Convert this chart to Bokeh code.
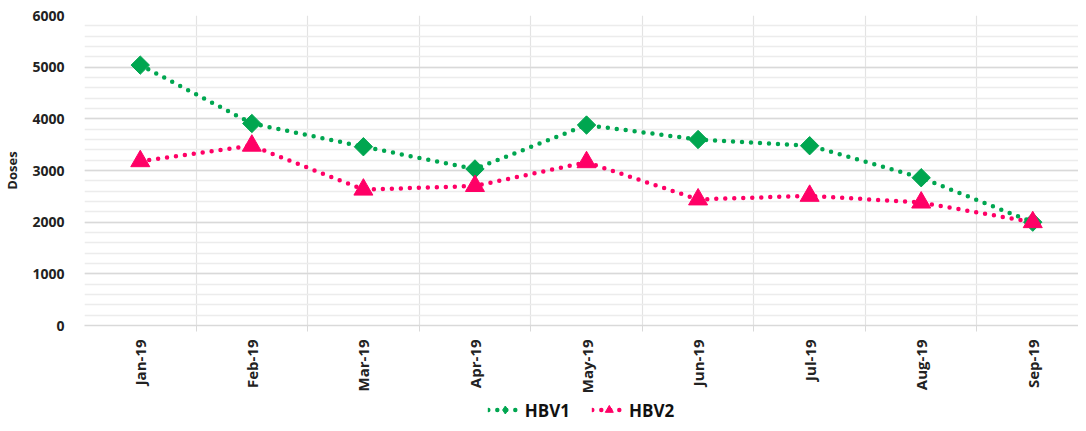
import math
from bokeh.plotting import figure
from bokeh.layouts import column
from bokeh.models import FixedTicker, Legend, LegendItem, ColumnDataSource
from bokeh.embed import file_html
from bokeh.resources import INLINE

months = ["Jan-19", "Feb-19", "Mar-19", "Apr-19", "May-19", "Jun-19", "Jul-19", "Aug-19", "Sep-19"]
hbv1 = [5040, 3910, 3460, 3030, 3880, 3600, 3480, 2860, 2000]
hbv2 = [3180, 3480, 2630, 2700, 3160, 2440, 2510, 2380, 2000]

xs = list(range(len(months)))
GREEN = "#00A650"
PINK = "#FF0066"
FONT = "Open Sans"

p = figure(width=1078, height=396, x_range=(-0.5, 8.41), y_range=(0, 6000),
           output_backend="svg", toolbar_location=None,
           min_border_left=70, min_border_right=0, min_border_top=15, min_border_bottom=0)
p.outline_line_color = None

# grids
p.ygrid.ticker = FixedTicker(ticks=[0, 1000, 2000, 3000, 4000, 5000, 6000],
                             minor_ticks=[v for v in range(0, 6001, 200)])
p.ygrid.grid_line_color = "#d9d9d9"
p.ygrid.grid_line_width = 1.5
p.ygrid.minor_grid_line_color = "#ececec"
p.ygrid.minor_grid_line_width = 1.5
p.xgrid.ticker = FixedTicker(ticks=[i + 0.5 for i in range(8)])
p.xgrid.grid_line_color = "#e3e3e3"
p.xgrid.grid_line_width = 1.2

# y axis
p.yaxis.ticker = FixedTicker(ticks=[0, 1000, 2000, 3000, 4000, 5000, 6000])
p.yaxis.axis_line_color = None
p.yaxis.major_tick_line_color = None
p.yaxis.minor_tick_line_color = None
p.yaxis.major_label_text_font = FONT
p.yaxis.major_label_text_font_style = "bold"
p.yaxis.major_label_text_font_size = "14px"
p.yaxis.major_label_text_color = "#222222"
p.yaxis.major_label_standoff = 14
p.yaxis.axis_label = "Doses"
p.yaxis.axis_label_text_font = FONT
p.yaxis.axis_label_text_font_style = "bold"
p.yaxis.axis_label_text_font_size = "13px"
p.yaxis.axis_label_text_color = "#222222"
p.yaxis.axis_label_standoff = 8

# x axis
p.xaxis.ticker = FixedTicker(ticks=xs, minor_ticks=[i + 0.5 for i in range(8)])
p.xaxis.major_label_overrides = {i: m for i, m in enumerate(months)}
p.xaxis.major_label_orientation = math.pi / 2
p.xaxis.major_label_text_font = FONT
p.xaxis.major_label_text_font_style = "bold"
p.xaxis.major_label_text_font_size = "15px"
p.xaxis.major_label_text_color = "#222222"
p.xaxis.major_label_standoff = 8
p.xaxis.axis_line_color = "#d9d9d9"
p.xaxis.axis_line_width = 1.5
p.xaxis.major_tick_line_color = None
p.xaxis.minor_tick_line_color = "#d9d9d9"
p.xaxis.minor_tick_out = 6
p.xaxis.minor_tick_in = 0

src = ColumnDataSource(dict(x=xs, h1=hbv1, h2=hbv2))


def draw(fig, diamond_marker="square", diamond_size=13, diamond_angle=math.pi / 4):
    a = fig.line("x", "h1", source=src, line_color=GREEN, line_width=4.5, line_dash="0 9", line_cap="round")
    b = fig.scatter("x", "h1", source=src, marker=diamond_marker, angle=diamond_angle,
                    size=diamond_size, color=GREEN)
    c = fig.line("x", "h2", source=src, line_color=PINK, line_width=4.5, line_dash="0 9", line_cap="round")
    d = fig.scatter("x", "h2", source=src, marker="triangle", size=19, color=PINK)
    return a, b, c, d


draw(p)

# legend strip below the chart (its series sit outside its visible range)
q = figure(width=1078, height=27, x_range=(100, 101), y_range=(0, 6000),
           output_backend="svg", toolbar_location=None,
           min_border_left=0, min_border_right=0, min_border_top=0, min_border_bottom=0)
q.outline_line_color = None
q.axis.visible = False
q.grid.visible = False
l1, m1, l2, m2 = draw(q, diamond_marker="diamond", diamond_size=20, diamond_angle=0)

legend = Legend(items=[LegendItem(label="HBV1", renderers=[l1, m1]),
                       LegendItem(label="HBV2", renderers=[l2, m2])],
                orientation="horizontal", location="center")
legend.label_text_font = FONT
legend.label_text_font_style = "bold"
legend.label_text_font_size = "17px"
legend.label_text_color = "#111111"
legend.glyph_width = 34
legend.label_standoff = 3
legend.spacing = 22
legend.border_line_color = None
legend.background_fill_alpha = 0
legend.padding = 2
legend.margin = 0
q.add_layout(legend, "center")

layout = column(p, q, spacing=0)
open("out.html", "w").write(file_html(layout, INLINE))
